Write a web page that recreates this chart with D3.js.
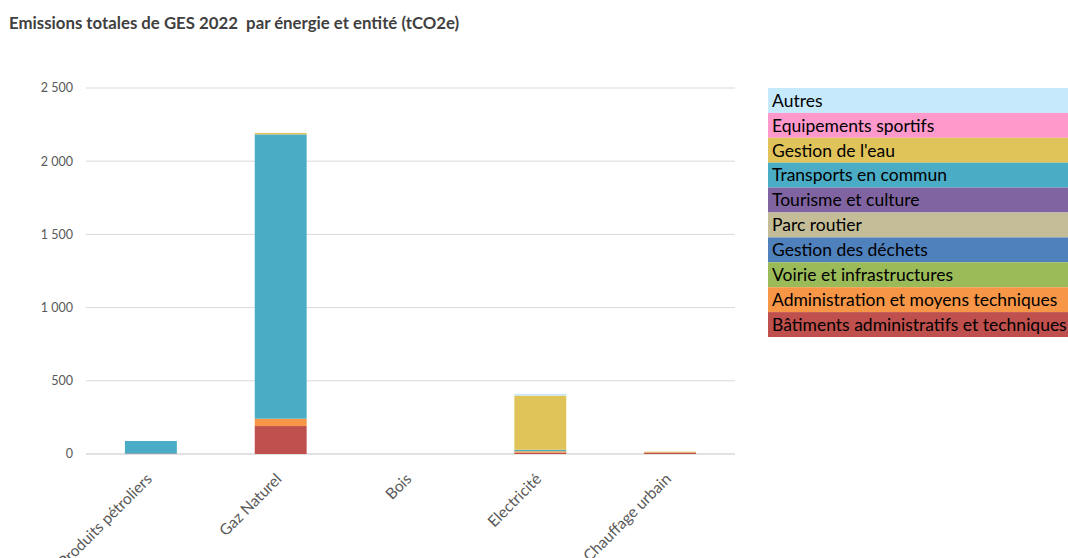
<!DOCTYPE html>
<html>
<head>
<meta charset="utf-8">
<script src="https://cdn.jsdelivr.net/npm/d3@7"></script>
<style>
  body { margin: 0; background: #fff; }
  svg { display: block; font-family: Lato, "Open Sans", sans-serif; }
</style>
</head>
<body>
<svg id="chart" width="1068" height="558"></svg>
<script>
const categories = ["Produits pétroliers", "Gaz Naturel", "Bois", "Electricité", "Chauffage urbain"];

// séries de bas en haut
const seriesNames = [
  "Bâtiments administratifs et techniques",
  "Administration et moyens techniques",
  "Voirie et infrastructures",
  "Gestion des déchets",
  "Parc routier",
  "Tourisme et culture",
  "Transports en commun",
  "Gestion de l'eau",
  "Equipements sportifs",
  "Autres",
];
const seriesColors = [
  "#c0504d", "#f79646", "#9bbb59", "#4f81bd", "#c4bd97",
  "#8064a2", "#4bacc6", "#e0c45a", "#ff99cc", "#c6e9fb",
];

const batiments = [3, 191, 0, 10, 10];
const administration = [0, 50, 0, 8, 0];
const voirie = [0, 0, 0, 2, 0];
const dechets = [0, 0, 0, 0, 0];
const parcRoutier = [0, 0, 0, 0, 0];
const tourisme = [0, 0, 0, 0, 0];
const transports = [86, 1942, 0, 9, 0];
const eau = [0, 10, 0, 370, 6];
const sportifs = [0, 0, 0, 0, 0];
const autres = [0, 0, 0, 12, 0];

const yTicks = [0, 500, 1000, 1500, 2000, 2500];

const seriesValues = [batiments, administration, voirie, dechets, parcRoutier,
  tourisme, transports, eau, sportifs, autres];

const rows = categories.map((c, i) => {
  const row = { category: c };
  seriesNames.forEach((s, k) => { row[s] = seriesValues[k][i]; });
  return row;
});

const svg = d3.select("#chart");
const margin = { top: 88, left: 86, right: 333, bottom: 104 };
const width = 1068 - margin.left - margin.right;
const height = 558 - margin.top - margin.bottom;

svg.append("text")
  .attr("x", 9)
  .attr("y", 29)
  .attr("font-weight", "bold")
  .attr("font-size", 16.8)
  .attr("fill", "#404040")
  .style("white-space", "pre")
  .text("Emissions totales de GES 2022  par énergie et entité (tCO2e)");

const g = svg.append("g").attr("transform", `translate(${margin.left},${margin.top})`);

const x = d3.scaleBand().domain(categories).range([0, width])
  .paddingInner(0.6).paddingOuter(0.3);
const y = d3.scaleLinear().domain([0, 2500]).range([height, 0]);

// grille
g.append("g")
  .selectAll("line")
  .data(yTicks)
  .join("line")
  .attr("x1", 0)
  .attr("x2", width)
  .attr("y1", d => y(d))
  .attr("y2", d => y(d))
  .attr("stroke", "#d9d9d9")
  .attr("stroke-width", d => d === 0 ? 1.5 : 1);

const fmt = d => d3.format(",")(d).replace(/,/g, " ");
g.append("g")
  .selectAll("text")
  .data(yTicks)
  .join("text")
  .attr("x", -13)
  .attr("y", d => y(d))
  .attr("dy", "0.35em")
  .attr("text-anchor", "end")
  .attr("font-size", 12.5)
  .attr("fill", "#595959")
  .text(fmt);

const stacked = d3.stack().keys(seriesNames)(rows);
g.append("g")
  .selectAll("g")
  .data(stacked)
  .join("g")
  .attr("fill", (d, i) => seriesColors[i])
  .selectAll("rect")
  .data(d => d)
  .join("rect")
  .attr("x", d => x(d.data.category))
  .attr("width", x.bandwidth())
  .attr("y", d => y(d[1]))
  .attr("height", d => y(d[0]) - y(d[1]));

// étiquettes de catégories
g.append("g")
  .selectAll("text")
  .data(categories)
  .join("text")
  .attr("transform", d => `translate(${x(d) + x.bandwidth() / 2 + 2},${height + 26}) rotate(-45)`)
  .attr("text-anchor", "end")
  .attr("font-size", 15.5)
  .attr("fill", "#595959")
  .text(d => d);

// légende
const legendTop = 88;
const rowH = 24.9;
const legendOrder = seriesNames.map((s, i) => i).reverse();
const legend = svg.append("g").attr("transform", `translate(768,${legendTop})`);
const item = legend.selectAll("g")
  .data(legendOrder)
  .join("g")
  .attr("transform", (d, i) => `translate(0,${i * rowH})`);
item.append("rect")
  .attr("width", 310)
  .attr("height", rowH)
  .attr("fill", d => seriesColors[d]);
item.append("text")
  .attr("x", 4)
  .attr("y", rowH / 2)
  .attr("dy", "0.36em")
  .attr("font-size", 17.5)
  .attr("fill", "#000")
  .text(d => seriesNames[d]);
</script>
</body>
</html>
